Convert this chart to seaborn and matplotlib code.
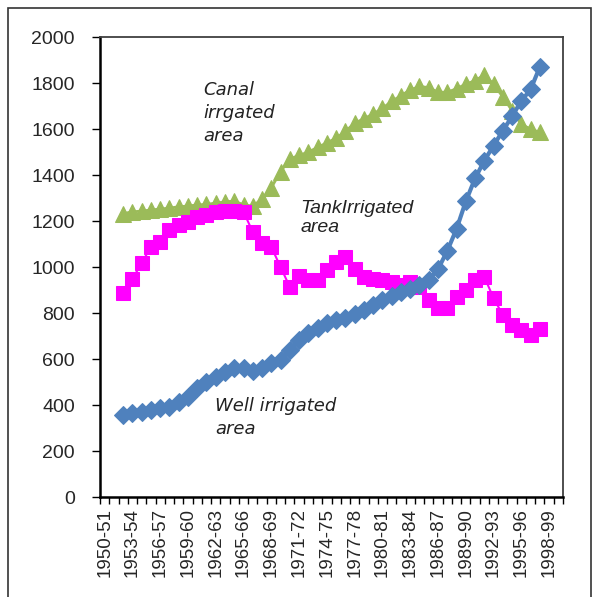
import matplotlib
matplotlib.use("Agg")
import matplotlib.pyplot as plt
import seaborn as sns
import pandas as pd
from matplotlib.patches import Rectangle

# Agricultural years on the category axis
years = [f"{y}-{str(y + 1)[-2:]}" for y in range(1950, 2000)]
data_years = years[2:48]  # 1952-53 .. 1997-98

canal = [1232, 1240, 1243, 1248, 1252, 1256, 1262, 1265, 1270, 1272,
         1278, 1283, 1287, 1270, 1265, 1295, 1345, 1415, 1470, 1485,
         1500, 1520, 1540, 1560, 1590, 1625, 1645, 1665, 1690, 1720,
         1745, 1770, 1785, 1780, 1760, 1760, 1775, 1795, 1810, 1835,
         1795, 1740, 1680, 1620, 1600, 1585]

tank = [887, 948, 1017, 1087, 1109, 1161, 1183, 1196, 1217, 1226,
        1239, 1245, 1242, 1240, 1152, 1104, 1087, 1000, 913, 960,
        945, 943, 987, 1022, 1043, 990, 957, 950, 943, 935,
        922, 935, 915, 857, 822, 822, 870, 900, 943, 957,
        865, 791, 748, 726, 704, 730]

well = [357, 365, 370, 378, 387, 391, 413, 435, 474, 500,
        522, 543, 561, 561, 550, 561, 583, 596, 639, 683,
        713, 735, 757, 768, 778, 795, 813, 835, 857, 875,
        890, 905, 920, 945, 990, 1070, 1165, 1285, 1385, 1462,
        1528, 1592, 1655, 1722, 1772, 1870]

yticks = list(range(0, 2001, 200))

df = pd.DataFrame({
    "pos": [years.index(y) for y in data_years],
    "canal": canal,
    "tank": tank,
    "well": well,
})

sns.set_style("white")
plt.rcParams["font.family"] = ["Liberation Sans", "DejaVu Sans"]

fig = plt.figure(figsize=(5.94, 5.97), dpi=100)
ax = fig.add_axes([100 / 594, 1 - 497 / 597, 463 / 594, 460 / 597])

sns.lineplot(data=df, x="pos", y="canal", ax=ax, color="#9BBB59",
             linewidth=2, marker="^", markersize=12,
             markeredgecolor="#9BBB59", zorder=2)
sns.lineplot(data=df, x="pos", y="tank", ax=ax, color="#FF00FF",
             linewidth=1.5, marker="s", markersize=10,
             markeredgecolor="#FF00FF", zorder=3)
sns.lineplot(data=df, x="pos", y="well", ax=ax, color="#4F81BD",
             linewidth=3, marker="D", markersize=9.5,
             markeredgecolor="#4F81BD", zorder=4)

ax.set_xlim(-0.5, len(years) - 0.5)
ax.set_ylim(0, 2000)
ax.set_xlabel("")
ax.set_ylabel("")

# labels every third year at category centres, tick marks at boundaries
ax.set_xticks(range(0, len(years), 3))
ax.set_xticklabels(years[::3], rotation=90, fontsize=13.5)
ax.set_xticks([i - 0.5 for i in range(len(years) + 1)], minor=True)
ax.tick_params(axis="x", which="major", length=0, pad=8)
ax.tick_params(axis="x", which="minor", direction="out", length=5,
               width=1, color="black", bottom=True)

ax.set_yticks(yticks)
ax.set_yticklabels([str(v) for v in yticks], fontsize=14)
ax.tick_params(axis="y", direction="out", length=6, width=1,
               color="black", left=True, pad=12)

for side in ["left", "bottom"]:
    ax.spines[side].set_color("black")
    ax.spines[side].set_linewidth(1.8)
for side in ["top", "right"]:
    ax.spines[side].set_color("#404040")
    ax.spines[side].set_linewidth(1.3)

# series annotations
ax.text(10.65, 1810, "Canal\nirrgated\narea", fontsize=13,
        family="DejaVu Sans", style="italic", color="#222222",
        linespacing=1.35, va="top", ha="left")
ax.text(21.15, 1292, "TankIrrigated\narea", fontsize=14,
        family="Liberation Sans", style="italic", color="#222222",
        linespacing=1.2, va="top", ha="left")
ax.text(11.95, 433, "Well irrigated\narea", fontsize=13,
        family="DejaVu Sans", style="italic", color="#222222",
        linespacing=1.35, va="top", ha="left")

# outer chart frame
fig.patches.append(Rectangle((8 / 594, -0.01), 583 / 594, 1 - 8 / 597 + 0.01,
                             transform=fig.transFigure, fill=False,
                             edgecolor="#333333", linewidth=1.2))

fig.savefig("out.png", dpi=100)
